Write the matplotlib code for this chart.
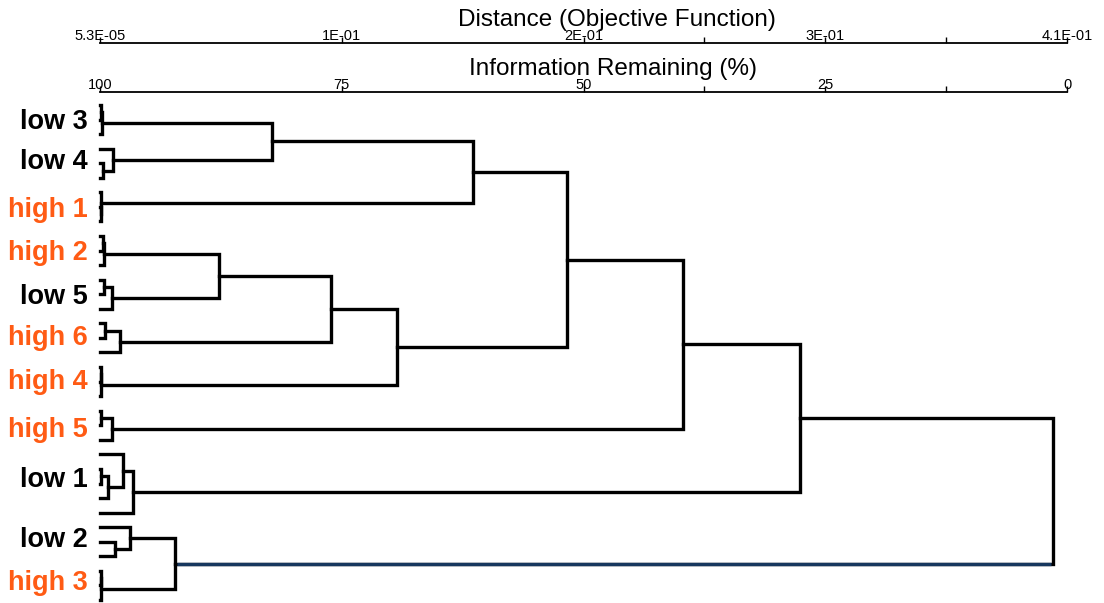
import matplotlib
matplotlib.use("Agg")
import matplotlib.pyplot as plt
import matplotlib.transforms as mtransforms

plt.rcParams['font.family'] = ['Liberation Sans', 'DejaVu Sans']

# distance range of the dendrogram (objective function)
d_min = 5.3e-05
d_max = 0.41
n_leaves = 35

# merges, scipy style: new node ids start at n_leaves
merge_left = [0, 35, 4, 3, 7, 6, 36, 41, 9, 43, 12, 45, 44, 15, 48, 47,
              18, 51, 50, 42, 21, 55, 54, 25, 58, 24, 60, 57, 30, 29, 32, 65,
              64, 62]
merge_right = [1, 2, 5, 37, 8, 39, 38, 40, 10, 11, 13, 14, 46, 16, 17, 49,
               19, 20, 52, 53, 22, 23, 56, 26, 27, 59, 28, 61, 31, 63, 33, 34,
               66, 67]
merge_height = [0.0003, 0.0008, 0.0013, 0.0055, 0.0003, 0.0006, 0.0729, 0.158,
                0.0012, 0.0017, 0.0017, 0.0051, 0.0505, 0.0021, 0.0085, 0.098,
                0.0003, 0.0006, 0.126, 0.198, 0.0005, 0.0051, 0.247,
                0.0005, 0.0034, 0.0098, 0.014, 0.297,
                0.0064, 0.0127, 0.0003, 0.0006, 0.0318, 0.404]

group_labels = ['low 3', 'low 4', 'high 1', 'high 2', 'low 5', 'high 6',
                'high 4', 'high 5', 'low 1', 'low 2', 'high 3']
group_rows = [1.2, 3.9, 7.2, 10.2, 13.2, 16.0, 19.0, 22.3, 25.75, 29.9, 32.8]

info_ticks = [100, 75, 50, 37.5, 25, 12.5, 0]
info_labels = ['100', '75', '50', '', '25', '', '0']
dist_labels = ['5.3E-05', '1E-01', '2E-01', '', '3E-01', '', '4.1E-01']

black = '#000000'
orange = '#FF5B14'
navy = '#17375E'

fig = plt.figure(figsize=(11.04, 6.03), dpi=100)
W, H = 1104, 603
ax = fig.add_axes([100 / W, 0, 967 / W, 511 / H])

# node positions, each merge drawn as a bracket
ypos = {i: float(i) for i in range(n_leaves)}
xpos = {i: d_min for i in range(n_leaves)}
for k, (l, r, h) in enumerate(zip(merge_left, merge_right, merge_height)):
    node = n_leaves + k
    ypos[node] = (ypos[l] + ypos[r]) / 2
    xpos[node] = h
    ax.plot([xpos[l], h, h, xpos[r]], [ypos[l], ypos[l], ypos[r], ypos[r]],
            color=black, lw=2.4, solid_joinstyle='miter',
            solid_capstyle='projecting', clip_on=False)

# the last branch is drawn in navy
last = n_leaves + len(merge_height) - 1
navy_node = merge_right[-1]
ax.plot([xpos[navy_node] + 0.0008, xpos[last] - 0.0008],
        [ypos[navy_node], ypos[navy_node]], color=navy, lw=2.4,
        solid_capstyle='butt', zorder=3)

# group labels
trans = mtransforms.blended_transform_factory(ax.transAxes, ax.transData)
for lab, row in zip(group_labels, group_rows):
    c = orange if lab.startswith('high') else black
    ax.text(-12 / 967, row, lab, transform=trans, ha='right', va='center',
            fontsize=19.5, fontweight='bold', color=c)

px_row = 14.56
ax.set_ylim(34 + 3 / px_row, -13 / px_row)
ax.set_xlim(d_min, d_max)

tick_pos = [d_min + (d_max - d_min) * (1 - t / 100) for t in info_ticks]

for s in ['left', 'right', 'bottom']:
    ax.spines[s].set_visible(False)
ax.spines['top'].set_linewidth(1.3)
ax.set_yticks([])
ax.xaxis.tick_top()
ax.set_xticks(tick_pos)
ax.set_xticklabels(info_labels)
ax.tick_params(axis='x', direction='out', length=4, width=1, pad=-4,
               labelsize=10.5)

sec = ax.secondary_xaxis(1 + 48.5 / 511)
sec.set_xticks(tick_pos)
sec.set_xticklabels(dist_labels)
sec.tick_params(axis='x', direction='out', length=4, width=1, pad=-4,
                labelsize=10.5)
sec.spines['top'].set_linewidth(1.3)

fig.text(617 / W, 1 - 20 / H, 'Distance (Objective Function)',
         ha='center', va='center', fontsize=17.5)
fig.text(613 / W, 1 - 69 / H, 'Information Remaining (%)',
         ha='center', va='center', fontsize=17.5)

fig.savefig('out.png', dpi=100)
